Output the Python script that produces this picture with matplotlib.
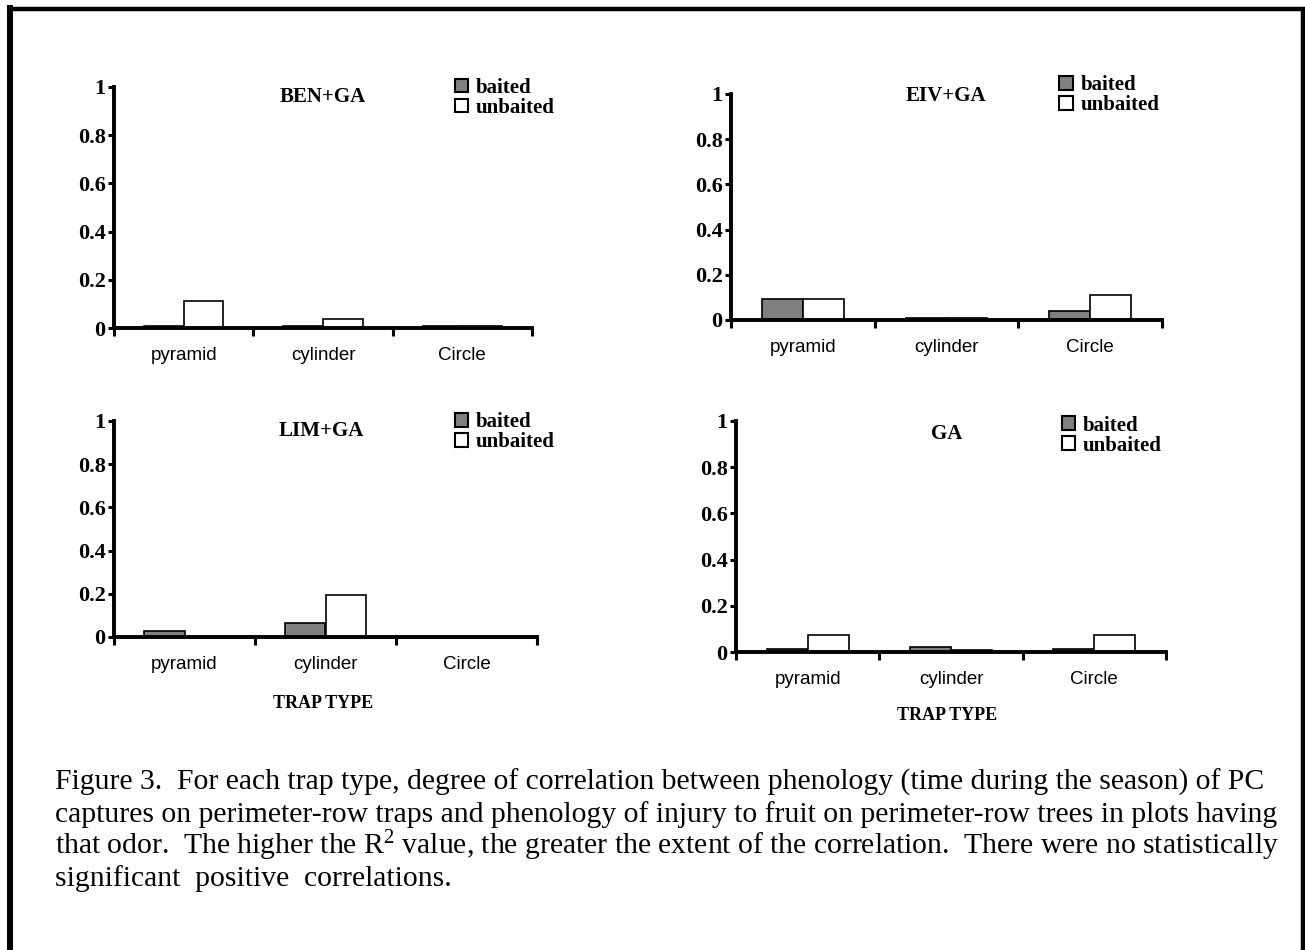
import matplotlib
matplotlib.use("Agg")
import matplotlib.pyplot as plt
from matplotlib.patches import Patch
from matplotlib.lines import Line2D
import numpy as np

plt.rcParams['mathtext.fontset'] = 'custom'
plt.rcParams['mathtext.rm'] = 'Liberation Serif'
plt.rcParams['mathtext.default'] = 'regular'

# ---------------- data ----------------
categories = ["pyramid", "cylinder", "Circle"]
series_names = ["baited", "unbaited"]
panel_titles = ["BEN+GA", "EIV+GA", "LIM+GA", "GA"]
ben_baited = [0.01, 0.01, 0.01]
ben_unbaited = [0.112, 0.036, 0.01]
eiv_baited = [0.093, 0.01, 0.04]
eiv_unbaited = [0.093, 0.01, 0.11]
lim_baited = [0.028, 0.065, 0.0]
lim_unbaited = [0.0, 0.195, 0.0]
ga_baited = [0.012, 0.022, 0.012]
ga_unbaited = [0.074, 0.01, 0.074]
yticks = [0, 0.2, 0.4, 0.6, 0.8, 1]
yticklabels = ["0", "0.2", "0.4", "0.6", "0.8", "1"]
xlabel_text = "TRAP TYPE"
caption_lines = [
    "Figure 3.  For each trap type, degree of correlation between phenology (time during the season) of PC",
    "captures on perimeter-row traps and phenology of injury to fruit on perimeter-row trees in plots having",
    "that odor.  The higher the R$^{2}$ value, the greater the extent of the correlation.  There were no statistically",
    "significant  positive  correlations.",
]

W, H = 1305, 950
fig = plt.figure(figsize=(W / 100, H / 100), dpi=100)

SERIF = "Liberation Serif"
SANS = "Liberation Sans"


def add_ax(l, r, t, b):
    return fig.add_axes([l / W, 1 - b / H, (r - l) / W, (b - t) / H])


# (left, right, top(y=1), bottom(y=0)) in pixels
boxes = [(114, 532, 87, 328), (731, 1162, 94, 320), (114, 537, 421, 637), (736, 1166, 421, 652)]
data = [(ben_baited, ben_unbaited), (eiv_baited, eiv_unbaited),
        (lim_baited, lim_unbaited), (ga_baited, ga_unbaited)]
title_pos = [(0.5, 0.958), (0.499, 0.991), (0.49, 0.954), (0.49, 0.943)]
legend_pos = [(0.815, 1.038), (0.762, 1.082), (0.805, 1.041), (0.757, 1.023)]
xlabel_pos = [None, None, (0.494, -0.31), (0.49, -0.273)]

bw = 0.285
centers = np.arange(len(categories)) + 0.5

for i, ax in enumerate([add_ax(*b) for b in boxes]):
    b, u = data[i]
    ax.bar(centers - bw / 2, b, width=bw, color="#808080", edgecolor="black", linewidth=1.2, zorder=2)
    ax.bar(centers + bw / 2, u, width=bw, color="white", edgecolor="black", linewidth=1.2, zorder=2)
    ax.set_xlim(0, 3)
    ax.set_ylim(0, 1)
    for s in ["top", "right"]:
        ax.spines[s].set_visible(False)
    for s in ["left", "bottom"]:
        ax.spines[s].set_linewidth(2.8)
        ax.spines[s].set_zorder(3)
    ax.set_yticks(yticks)
    ax.set_yticklabels(yticklabels, fontfamily=SERIF, fontweight="bold", fontsize=16)
    ax.tick_params(axis="y", direction="out", length=4, width=2.2, pad=2)
    ax.set_xticks([0, 1, 2, 3])
    ax.set_xticklabels([])
    ax.tick_params(axis="x", which="major", direction="out", length=6, width=2.2)
    ax.set_xticks(centers, minor=True)
    ax.set_xticklabels(categories, minor=True, fontfamily=SANS, fontsize=13.5)
    ax.tick_params(axis="x", which="minor", length=0, pad=14)
    ax.text(title_pos[i][0], title_pos[i][1], panel_titles[i], transform=ax.transAxes,
            ha="center", va="center", fontfamily=SERIF, fontweight="bold", fontsize=15)
    handles = [Patch(facecolor="#808080", edgecolor="black", linewidth=1.5),
               Patch(facecolor="white", edgecolor="black", linewidth=1.5)]
    ax.legend(handles, series_names, loc="upper left", bbox_to_anchor=legend_pos[i],
              frameon=False, borderpad=0, borderaxespad=0, handlelength=0.65,
              handleheight=0.65, handletextpad=0.35, labelspacing=0.0,
              prop={"family": SERIF, "weight": "bold", "size": 15})
    if xlabel_pos[i] is not None:
        ax.text(xlabel_pos[i][0], xlabel_pos[i][1], xlabel_text, transform=ax.transAxes,
                ha="center", va="center", fontfamily=SERIF, fontweight="bold", fontsize=13)

# caption
baselines = [790, 822, 854, 886]
for line, yb in zip(caption_lines, baselines):
    fig.text(55 / W, 1 - yb / H, line, ha="left", va="baseline", fontfamily=SERIF, fontsize=21.3)

# page border (no bottom edge)
fig.add_artist(Line2D([10 / W, 10 / W], [0, 1 - 8 / H], color="black", linewidth=4.3,
                      transform=fig.transFigure, solid_capstyle="projecting"))
fig.add_artist(Line2D([10 / W, 1303 / W, 1303 / W], [1 - 9 / H, 1 - 9 / H, 0], color="black",
                      linewidth=3.2, transform=fig.transFigure, solid_joinstyle="miter"))

fig.savefig("out.png", dpi=100, facecolor="white")
